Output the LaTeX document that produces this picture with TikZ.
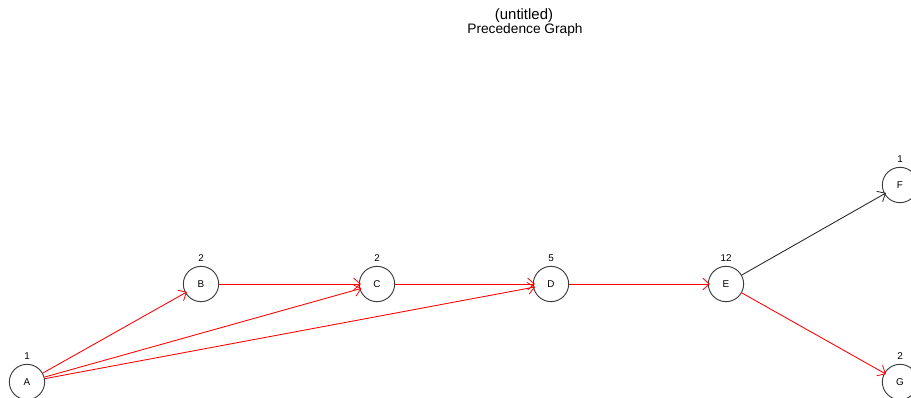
\documentclass[tikz,border=0pt]{standalone}
\usepackage{fontspec}
\setmainfont{Liberation Sans}
\usetikzlibrary{arrows.meta}
\definecolor{circ}{RGB}{60,60,60}
\tikzset{
  task/.style={circle,draw=circ,line width=0.7pt,minimum size=26.5pt,inner sep=0pt,font=\fontsize{7.4pt}{8pt}\selectfont},
  numlab/.style={inner sep=0pt,font=\fontsize{7.4pt}{8pt}\selectfont},
  crit/.style={draw=red,line width=0.65pt,shorten >=-1.5pt,-{Straight Barb[length=5pt,width=9pt,line width=0.6pt]}},
  norm/.style={draw=black!85,line width=0.65pt,shorten >=-1.5pt,-{Straight Barb[length=5pt,width=9pt,line width=0.6pt]}},
  titletext/.style={inner sep=0pt,font=\fontsize{11.2pt}{12pt}\selectfont},
  subtext/.style={inner sep=0pt,font=\fontsize{10.3pt}{11pt}\selectfont}
}
\begin{document}
\begin{tikzpicture}[x=0.75pt,y=-0.75pt]
\useasboundingbox (0,0) rectangle (911,398);
\clip (0,0) rectangle (911,398);
\node[titletext] (t1) at (524,16) {(untitled)};
\node[subtext] (t2) at (525,30) {Precedence Graph};
\node[task] (A) at (27,382) {A};
\node[task] (B) at (201,284) {B};
\node[task] (C) at (377,284) {C};
\node[task] (D) at (551,284) {D};
\node[task] (E) at (726,284) {E};
\node[task] (F) at (900,185) {F};
\node[task] (G) at (900,382) {G};
\node[numlab] (lA) at (27,356) {1};
\node[numlab] (lB) at (201,258) {2};
\node[numlab] (lC) at (377,258) {2};
\node[numlab] (lD) at (551,258) {5};
\node[numlab] (lE) at (726,258) {12};
\node[numlab] (lF) at (900,159) {1};
\node[numlab] (lG) at (900,356) {2};
\draw[crit] (A) -- (B);
\draw[crit] (A) -- (C);
\draw[crit] (A) -- (D);
\draw[crit] (B) -- (C);
\draw[crit] (C) -- (D);
\draw[crit] (D) -- (E);
\draw[norm] (E) -- (F);
\draw[crit] (E) -- (G);
\end{tikzpicture}
\end{document}
